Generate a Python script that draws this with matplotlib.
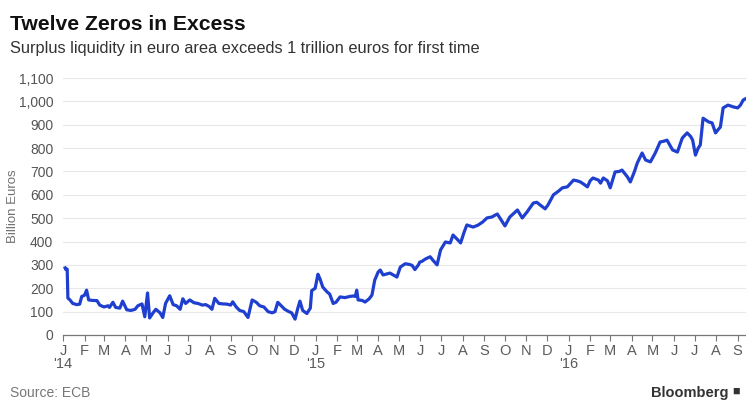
import matplotlib.pyplot as plt
import matplotlib.dates as mdates
import pandas as pd

plt.rcParams['font.family'] = ['Liberation Sans', 'DejaVu Sans']

# ---- data ----
dates = [
    '2014-01-04', '2014-01-05', '2014-01-07', '2014-01-08', '2014-01-11', '2014-01-15',
    '2014-01-21', '2014-01-25', '2014-01-28', '2014-02-01', '2014-02-04', '2014-02-07',
    '2014-02-13', '2014-02-19', '2014-02-23', '2014-03-01', '2014-03-07', '2014-03-09',
    '2014-03-14', '2014-03-18', '2014-03-24', '2014-03-28', '2014-04-03', '2014-04-09',
    '2014-04-15', '2014-04-19', '2014-04-25', '2014-04-29', '2014-05-03', '2014-05-06',
    '2014-05-11', '2014-05-15', '2014-05-21', '2014-05-25', '2014-05-29', '2014-06-04',
    '2014-06-09', '2014-06-14', '2014-06-19', '2014-06-23', '2014-06-27', '2014-07-03',
    '2014-07-09', '2014-07-15', '2014-07-21', '2014-07-26', '2014-07-31', '2014-08-04',
    '2014-08-08', '2014-08-14', '2014-08-20', '2014-08-26', '2014-08-31', '2014-09-03',
    '2014-09-08', '2014-09-13', '2014-09-19', '2014-09-25', '2014-10-01', '2014-10-07',
    '2014-10-12', '2014-10-18', '2014-10-24', '2014-10-30', '2014-11-03', '2014-11-07',
    '2014-11-12', '2014-11-17', '2014-11-23', '2014-11-27', '2014-12-02', '2014-12-06',
    '2014-12-09', '2014-12-13', '2014-12-19', '2014-12-24', '2014-12-26', '2014-12-31',
    '2015-01-04', '2015-01-07', '2015-01-11', '2015-01-17', '2015-01-21', '2015-01-26',
    '2015-01-30', '2015-02-05', '2015-02-12', '2015-02-19', '2015-02-24', '2015-02-27',
    '2015-03-01', '2015-03-03', '2015-03-09', '2015-03-13', '2015-03-19', '2015-03-23',
    '2015-03-27', '2015-04-01', '2015-04-04', '2015-04-08', '2015-04-14', '2015-04-18',
    '2015-04-24', '2015-04-28', '2015-05-03', '2015-05-10', '2015-05-16', '2015-05-20',
    '2015-05-24', '2015-05-29', '2015-05-31', '2015-06-03', '2015-06-08', '2015-06-15',
    '2015-06-19', '2015-06-25', '2015-06-30', '2015-07-07', '2015-07-14', '2015-07-18',
    '2015-07-24', '2015-07-29', '2015-08-03', '2015-08-07', '2015-08-16', '2015-08-23',
    '2015-08-30', '2015-09-05', '2015-09-12', '2015-09-20', '2015-09-25', '2015-10-01',
    '2015-10-08', '2015-10-19', '2015-10-26', '2015-11-02', '2015-11-11', '2015-11-16',
    '2015-11-21', '2015-11-28', '2015-12-02', '2015-12-10', '2015-12-17', '2015-12-23',
    '2015-12-30', '2016-01-08', '2016-01-13', '2016-01-18', '2016-01-23', '2016-01-28',
    '2016-02-01', '2016-02-05', '2016-02-13', '2016-02-16', '2016-02-20', '2016-02-26',
    '2016-03-01', '2016-03-08', '2016-03-14', '2016-03-18', '2016-03-26', '2016-03-30',
    '2016-04-05', '2016-04-09', '2016-04-16', '2016-04-21', '2016-04-28', '2016-05-05',
    '2016-05-12', '2016-05-18', '2016-05-22', '2016-05-30', '2016-06-06', '2016-06-13',
    '2016-06-20', '2016-06-25', '2016-06-28', '2016-07-02', '2016-07-06', '2016-07-09',
    '2016-07-13', '2016-07-21', '2016-07-26', '2016-07-31', '2016-08-04', '2016-08-07',
    '2016-08-11', '2016-08-18', '2016-08-26', '2016-09-01', '2016-09-05', '2016-09-09',
    '2016-09-13',
]
liquidity = [
    287, 280, 282, 158, 150, 135,
    130, 132, 165, 170, 192, 150,
    148, 147, 128, 120, 125, 118,
    140, 118, 115, 145, 108, 105,
    110, 125, 133, 78, 180, 73,
    95, 110, 95, 75, 135, 168,
    130, 125, 110, 155, 135, 150,
    138, 135, 128, 130, 122, 110,
    157, 135, 133, 132, 128, 142,
    120, 105, 100, 75, 150, 140,
    125, 120, 100, 95, 100, 140,
    125, 110, 100, 95, 68, 115,
    145, 105, 92, 115, 190, 200,
    260, 240, 205, 185, 175, 135,
    140, 163, 160, 165, 167, 165,
    192, 150, 148, 141, 155, 171,
    235, 270, 278, 257, 262, 265,
    255, 248, 291, 305, 302, 298,
    280, 300, 312, 315, 325, 335,
    320, 300, 364, 398, 394, 428,
    410, 394, 440, 471, 462, 470,
    484, 501, 505, 518, 495, 467,
    505, 535, 501, 527, 565, 568,
    556, 540, 556, 600, 615, 630,
    634, 663, 660, 655, 645, 634,
    660, 672, 663, 650, 672, 660,
    630, 698, 700, 706, 676, 655,
    700, 736, 779, 749, 741, 779,
    826, 830, 834, 792, 783, 843,
    865, 850, 834, 770, 800, 813,
    928, 912, 908, 865, 880, 890,
    972, 984, 976, 972, 984, 1006,
    1012,
]
month_letters = ['J', 'F', 'M', 'A', 'M', 'J', 'J', 'A', 'S', 'O', 'N', 'D']
y_ticks = list(range(0, 1101, 100))

x = pd.to_datetime(dates)

fig = plt.figure(figsize=(7.46, 4.0), dpi=100)
ax = fig.add_axes([0.0845, 0.1625, 0.9155, 0.6425])

ax.plot(x, liquidity, color='#1f3fcf', lw=2.3, solid_joinstyle='round', zorder=3)

ax.set_ylim(0, 1100)
ax.set_xlim(pd.Timestamp('2014-01-01'), pd.Timestamp('2016-09-13'))
ax.set_yticks(y_ticks)
ax.set_yticklabels([f'{v:,}' for v in y_ticks])
ax.grid(axis='y', color='#e8e8e8', lw=0.8)
ax.set_axisbelow(True)

for s in ['top', 'right', 'left']:
    ax.spines[s].set_visible(False)
ax.spines['bottom'].set_color('#777777')
ax.spines['bottom'].set_linewidth(0.9)

ax.xaxis.set_major_locator(mdates.MonthLocator())
ax.xaxis.set_major_formatter(mdates.DateFormatter(''))
ax.tick_params(axis='x', length=4, width=0.8, color='#777777', pad=2)
ax.tick_params(axis='y', length=0, labelsize=10, labelcolor='#555555', pad=7)

# month letters + year labels
month_starts = pd.date_range('2014-01-01', '2016-09-01', freq='MS')
for d in month_starts:
    ax.text(d, -40, month_letters[d.month - 1], ha='center', va='top',
            fontsize=10.5, color='#5a5a5a', clip_on=False)
    if d.month == 1:
        ax.text(d, -95, "'" + str(d.year)[2:], ha='center', va='top',
                fontsize=10.5, color='#5a5a5a', clip_on=False)

ax.set_ylabel('Billion Euros', fontsize=9.5, color='#707070')
ax.yaxis.set_label_coords(-0.064, 0.5)

fig.text(0.013, 0.925, 'Twelve Zeros in Excess', fontsize=15.2, fontweight='bold',
         color='#111111')
fig.text(0.013, 0.868, 'Surplus liquidity in euro area exceeds 1 trillion euros for first time',
         fontsize=11.8, color='#333333')
fig.text(0.013, 0.008, 'Source: ECB', fontsize=10, color='#777777')
fig.text(0.872, 0.008, 'Bloomberg', fontsize=10.5, fontweight='bold', color='#333333')
fig.text(0.981, 0.012, '\u25a0', fontsize=9, color='#333333')

fig.savefig('out.png', dpi=100)
